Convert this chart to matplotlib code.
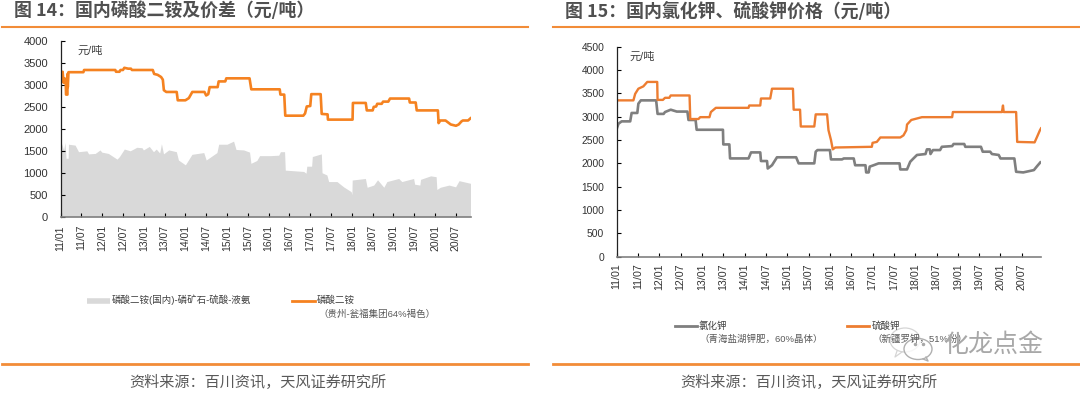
import matplotlib
matplotlib.use('Agg')
import matplotlib.pyplot as plt
from matplotlib.patches import Ellipse

plt.rcParams['font.family'] = ['Liberation Sans', 'Noto Sans CJK SC', 'DejaVu Sans']

# x positions are months since 2011/01
tick_labels = ['11/01', '11/07', '12/01', '12/07', '13/01', '13/07', '14/01', '14/07', '15/01', '15/07',
               '16/01', '16/07', '17/01', '17/07', '18/01', '18/07', '19/01', '19/07', '20/01', '20/07']
tick_months = [i * 6 for i in range(len(tick_labels))]

# Chart 14
dap_m = [0, 0.3, 0.6, 0.9, 1.2, 1.5, 1.6, 2.0, 2.0, 2.1, 2.3, 6.6, 6.8, 15.8, 16, 17, 17.3, 18, 18.4, 19.5,
         20.3, 20.6, 26.6, 27, 28, 29, 29.5, 29.8, 30.5, 33.5, 33.8, 36, 37, 38, 41.5, 42, 42.6, 43, 45.3,
         45.6, 47.5, 47.8, 54.5, 55, 63.2, 63.4, 64.5, 64.8, 70, 70.5, 71, 72, 72.3, 75, 75.3, 77, 77.1,
         84.2, 84.3, 88, 88.3, 90, 90.3, 91, 91.3, 92.6, 93, 94.5, 95, 100.5, 100.7, 102.4, 102.7, 108.8,
         109, 109.5, 111, 112.5, 114, 114.8, 115.6, 116, 117.5, 118.2]
dap_v = [3300, 3080, 3300, 3050, 3150, 3100, 2780, 2780, 3250, 2950, 3290, 3290, 3340, 3340, 3300, 3300, 3340,
         3340, 3390, 3370, 3370, 3340, 3340, 3250, 3230, 3180, 3120, 2880, 2840, 2840, 2650, 2650, 2700, 2840,
         2840, 2760, 2790, 2950, 2950, 3080, 3080, 3150, 3150, 2900, 2900, 2780, 2780, 2300, 2300, 2350, 2510,
         2520, 2790, 2790, 2340, 2330, 2210, 2210, 2590, 2590, 2420, 2420, 2500, 2510, 2570, 2570, 2620, 2620,
         2690, 2690, 2600, 2600, 2420, 2420, 2130, 2190, 2190, 2100, 2070, 2100, 2170, 2190, 2190, 2240]
spread_m = [0, 0.9, 1.3, 1.6, 2.2, 2.3, 4.2, 5.2, 7.6, 8.1, 10, 11.4, 11.9, 13.8, 16.3, 17, 18.4, 20.1, 22, 23.5,
            23.9, 25.6, 26.8, 27.6, 28.6, 29.1, 29.7, 31.2, 33.4, 34, 36, 37.9, 41.3, 42, 45.1, 45.6, 48, 49.9,
            50.6, 52.8, 54.5, 54.9, 56.6, 57.4, 60.5, 62.9, 63.4, 64.6, 64.8, 70.1, 70.8, 71, 72.4, 72.6, 75.2,
            75.4, 76.8, 77.3, 79.7, 81.6, 83.8, 84, 84.1, 87.9, 88.4, 90.3, 91.4, 93.2, 94.1, 97.5, 98.4, 101.8,
            102.1, 103.6, 103.8, 106.7, 108.3, 108.5, 109.5, 112, 113.9, 114.9, 118.2]
spread_v = [1740, 1520, 1690, 1330, 1330, 1650, 1630, 1480, 1500, 1430, 1440, 1520, 1470, 1440, 1310, 1370, 1540,
            1500, 1580, 1570, 1520, 1600, 1480, 1540, 1450, 1660, 1430, 1520, 1480, 1290, 1180, 1420, 1460, 1290,
            1460, 1650, 1650, 1720, 1530, 1520, 1470, 1215, 1280, 1390, 1390, 1400, 1480, 1480, 1060, 1030, 990,
            1150, 1150, 1370, 1430, 1000, 950, 800, 800, 680, 570, 500, 835, 870, 670, 720, 840, 670, 800, 870,
            800, 870, 740, 720, 850, 930, 910, 620, 670, 720, 680, 820, 760]

# Chart 15
kcl_m = [0, 0.5, 1.4, 3.8, 4.2, 5.8, 6.1, 6.8, 11.1, 11.5, 13.2, 13.6, 15.2, 16.9, 19.9, 20.2, 22.2, 22.5, 29.9,
         30, 31.7, 31.9, 37.1, 37.8, 40.4, 40.6, 42.3, 42.5, 43.7, 45.1, 50.5, 51.2, 55.6, 56, 56.5, 60, 60.3, 63.4,
         63.9, 66.7, 67.1, 70, 70.2, 70.9, 71.2, 72.3, 73.7, 79.6, 79.8, 81.7, 82.6, 83.5, 84.5, 86.9, 87.3, 88.1,
         88.3, 89, 91, 91.5, 94.4, 94.8, 97.8, 98.1, 102.5, 103, 105.1, 105.6, 107.5, 108, 111.9, 112.4, 114.4,
         117.4, 118.3, 119.2]
kcl_v = [2740, 2850, 2900, 2900, 3080, 3080, 3280, 3350, 3350, 3060, 3060, 3100, 3150, 3110, 3110, 2930, 2930, 2720,
         2720, 2406, 2406, 2106, 2106, 2235, 2235, 2050, 2050, 1890, 1960, 2130, 2130, 2000, 2000, 2250, 2285, 2285,
         2085, 2085, 2105, 2105, 1960, 1960, 1806, 1806, 1930, 1960, 2000, 2000, 1870, 1870, 2035, 2105, 2180, 2200,
         2300, 2300, 2200, 2285, 2285, 2355, 2370, 2415, 2415, 2355, 2355, 2250, 2250, 2200, 2180, 2105, 2105, 1820,
         1806, 1856, 1940, 2020]
sop_m = [0, 4.7, 5.2, 6.1, 7.5, 8.6, 11.4, 11.5, 13, 13.6, 14.8, 15.2, 20.5, 20.7, 23, 23.5, 26.1, 26.5, 27.9, 37.1,
         37.3, 40.4, 40.6, 43.2, 43.7, 49.6, 49.8, 51.6, 51.8, 55.6, 56, 59.2, 59.6, 60.3, 60.8, 61.5, 71.8, 72, 73.2,
         74.2, 79.8, 80.7, 81.5, 81.7, 82.9, 85.9, 94.4, 94.6, 108.4, 108.7, 108.9, 112.4, 112.7, 117.6, 118.3, 119.1,
         119.4]
sop_v = [3350, 3350, 3490, 3600, 3650, 3745, 3745, 3360, 3360, 3405, 3405, 3455, 3455, 2950, 2950, 2990, 2990, 3100,
         3190, 3190, 3240, 3240, 3390, 3390, 3600, 3600, 3150, 3150, 2790, 2790, 3050, 3050, 2710, 2500, 2300, 2340,
         2355, 2440, 2460, 2555, 2555, 2600, 2710, 2832, 2930, 2990, 2990, 3100, 3100, 3240, 3100, 3100, 2460, 2450,
         2570, 2710, 2750]

FIG_W, FIG_H = 1080, 393
ORANGE = '#F58220'
RULE = '#F28C38'
GRAY = '#7F7F7F'
TEXT = '#404040'
TITLE = '#505050'

fig = plt.figure(figsize=(FIG_W / 100, FIG_H / 100), dpi=100)


def make_axes(x0, x1, y_top, y_bottom):
    ax = fig.add_axes([x0 / FIG_W, 1 - y_bottom / FIG_H, (x1 - x0) / FIG_W, (y_bottom - y_top) / FIG_H])
    for s in ['top', 'right']:
        ax.spines[s].set_visible(False)
    ax.spines['left'].set_color('#222222')
    ax.spines['left'].set_linewidth(0.9)
    ax.spines['bottom'].set_color('#808080')
    ax.spines['bottom'].set_linewidth(1.2)
    return ax


# Chart 14
ax1 = make_axes(60.5, 470.5, 41, 216.7)
ax1.fill_between(spread_m, spread_v, 0, color='#D9D9D9', linewidth=0)
ax1.plot(dap_m, dap_v, color=ORANGE, lw=1.9, solid_joinstyle='round')
ax1.set_xlim(0, 118.2)
ax1.set_ylim(0, 4000)
ax1.set_yticks(range(0, 4001, 500))
ax1.set_xticks(tick_months)
ax1.set_xticklabels(tick_labels, rotation=90)
ax1.tick_params(axis='y', direction='in', length=3, width=0.8, labelsize=8, labelcolor='#333333', pad=9)
ax1.tick_params(axis='x', direction='in', length=3, width=0.8, labelsize=7.5, labelcolor='#333333', pad=6)

# Chart 15
ax2 = make_axes(616.7, 1041, 46.7, 256.7)
ax2.plot(kcl_m, kcl_v, color=GRAY, lw=1.9)
ax2.plot(sop_m, sop_v, color='#ED7D31', lw=1.7)
ax2.set_xlim(0, 119.4)
ax2.set_ylim(0, 4500)
ax2.set_yticks(range(0, 4501, 500))
ax2.set_xticks(tick_months)
ax2.set_xticklabels(tick_labels, rotation=90)
ax2.tick_params(axis='y', direction='in', length=3, width=0.8, labelsize=7.4, labelcolor='#333333', pad=9)
ax2.tick_params(axis='x', direction='in', length=3, width=0.8, labelsize=7.7, labelcolor='#333333', pad=5)

# Page furniture, in pixel coordinates
page = fig.add_axes([0, 0, 1, 1])
page.set_xlim(0, FIG_W)
page.set_ylim(FIG_H, 0)
page.axis('off')
page.patch.set_alpha(0)

page.text(14, 11, '图 14：国内磷酸二铵及价差（元/吨）', fontsize=12.9, fontweight='bold', color=TITLE,
          va='center', family=['Noto Sans CJK SC'])
page.text(565, 11, '图 15：国内氯化钾、硫酸钾价格（元/吨）', fontsize=12.9, fontweight='bold', color=TITLE,
          va='center', family=['Noto Sans CJK SC'])
page.plot([2, 528], [27, 27], color=RULE, lw=1.5)
page.plot([553, 1080], [27, 27], color=RULE, lw=1.5)
page.plot([2, 528], [364, 364], color=RULE, lw=2)
page.plot([553, 1080], [364, 364], color=RULE, lw=2)

page.text(77, 51, '元/吨', fontsize=8, color=TEXT, va='center')
page.text(630, 57, '元/吨', fontsize=8, color=TEXT, va='center')

page.plot([87, 110], [301, 301], color='#D9D9D9', lw=4, solid_capstyle='butt')
page.text(112, 300, '磷酸二铵(国内)-磷矿石-硫酸-液氨', fontsize=6.8, color=TEXT, va='center')
page.plot([292, 315], [301, 301], color=ORANGE, lw=2)
page.text(317, 300, '磷酸二铵', fontsize=6.8, color=TEXT, va='center')
page.text(318, 314, '（贵州-瓮福集团64%褐色）', fontsize=6.8, color='#595959', va='center')

page.plot([675, 697], [326, 326], color=GRAY, lw=2)
page.text(699, 326, '氯化钾', fontsize=6.8, color=TEXT, va='center')
page.text(699, 339, '（青海盐湖钾肥，60%晶体）', fontsize=6.8, color='#595959', va='center')
page.plot([847, 869], [326, 326], color='#ED7D31', lw=2)
page.text(872, 326, '硫酸钾', fontsize=6.8, color=TEXT, va='center')
page.text(872, 339, '（新疆罗钾，51%粉）', fontsize=6.8, color='#595959', va='center')

page.text(258, 382, '资料来源：百川资讯，天风证券研究所', fontsize=10.9, color='#595959', ha='center', va='center')
page.text(809, 382, '资料来源：百川资讯，天风证券研究所', fontsize=10.9, color='#595959', ha='center', va='center')

# Watermark
page.add_patch(Ellipse((905, 340), 30, 24, facecolor=(1, 1, 1, 0.75), edgecolor='#D5D5D5', lw=0.9))
page.plot([897, 895, 902], [351, 357, 352], color='#D5D5D5', lw=0.9)
page.add_patch(Ellipse((918, 349), 28, 21, facecolor=(1, 1, 1, 0.8), edgecolor='#B0B0B0', lw=1.0))
page.plot([923, 928, 926], [359, 361, 357], color='#B0B0B0', lw=1.0)
page.plot([915, 923], [344, 344], 'o', color='#A8A8A8', ms=1.5)
page.text(994, 345, '化龙点金', fontsize=18, color='#A8A8A8', ha='center', va='center')

fig.savefig('out.png', dpi=100)
